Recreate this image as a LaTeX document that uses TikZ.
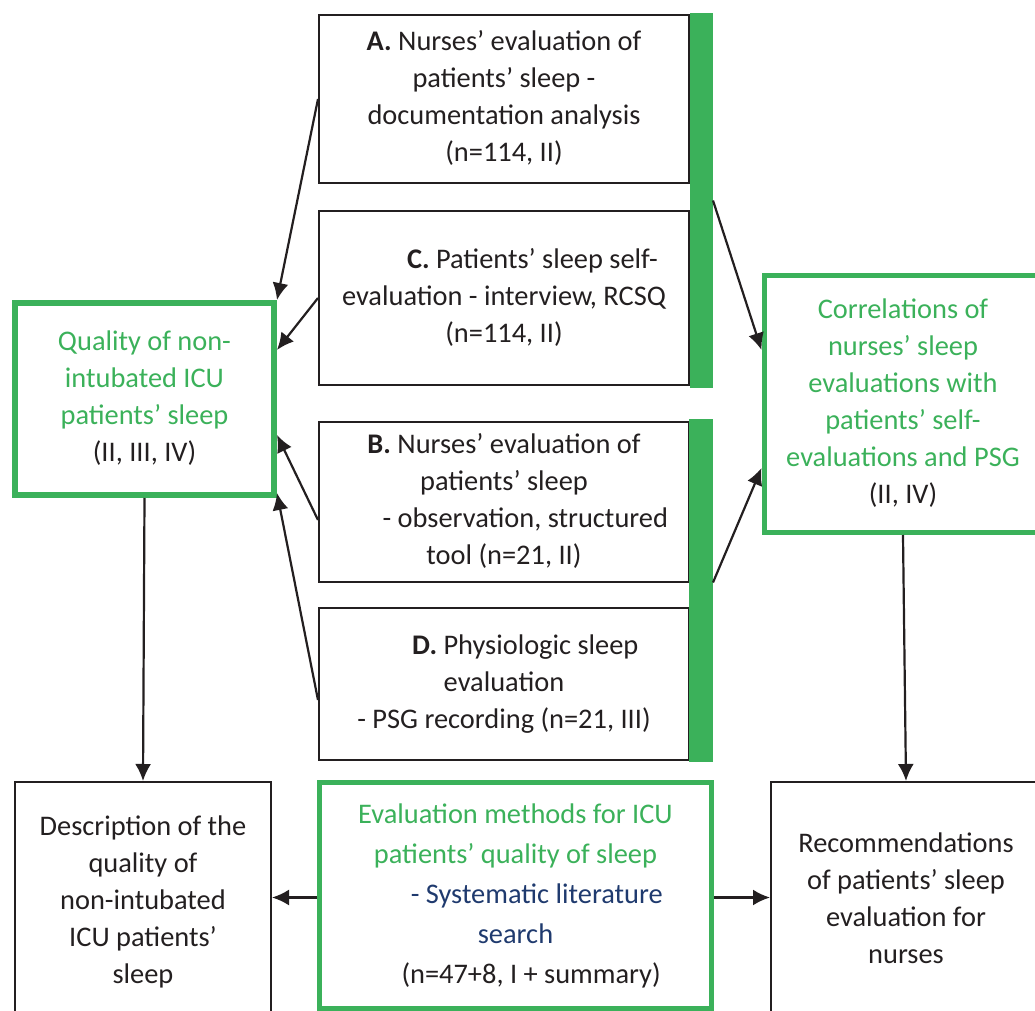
\documentclass[tikz,border=0pt]{standalone}
\usepackage{fontspec}
\setmainfont{Carlito}
\usetikzlibrary{positioning,arrows.meta}

\begin{document}
\begin{tikzpicture}[x=0.5pt, y=-0.5pt]
  \definecolor{ink}{HTML}{231F20}
  \definecolor{green}{HTML}{3BB15A}
  \definecolor{navy}{HTML}{1F3A6E}
  \newcommand{\nodename}[1]{\fontsize{14.2}{18.5}\selectfont\begin{tabular}{c}#1\end{tabular}}
  \newcommand{\widename}[1]{\fontsize{14.2}{20}\selectfont\begin{tabular}{c}#1\end{tabular}}
  \tikzstyle{block}     = [rectangle, draw=ink, line width=1pt, text=ink, inner sep=0pt]
  \tikzstyle{goal}      = [rectangle, draw=green, line width=3pt, text=green, inner sep=0pt]
  \tikzstyle{bar}       = [rectangle, fill=green, inner sep=0pt, outer sep=0pt]
  \tikzstyle{connector} = [line width=1.1pt, draw=ink, -{Latex[length=8.5pt, width=8pt]}]
  \useasboundingbox (0,0) rectangle (1035,1011);
  \clip (0,0) rectangle (1035,1011);
  % method boxes
  \node [block, minimum width=185pt, minimum height=84pt] (docanalysis) at (504,99)  {\nodename{\textbf{A.} Nurses’ evaluation of\\patients’ sleep -\\documentation analysis\\(n=114, II)}};
  \node [block, minimum width=185pt, minimum height=87pt] (selfeval)    at (504,298) {\nodename{\hspace*{2em}\textbf{C.} Patients’ sleep self-\\evaluation - interview, RCSQ\\(n=114, II)}};
  \node [block, minimum width=185pt, minimum height=80pt] (observation) at (504,502) {\nodename{\textbf{B.} Nurses’ evaluation of\\patients’ sleep\\\hspace*{1.5em}- observation, structured\\tool (n=21, II)}};
  \node [block, minimum width=185pt, minimum height=76pt] (psg)         at (504,684) {\nodename{\hspace*{1.5em}\textbf{D.} Physiologic sleep\\evaluation\\- PSG recording (n=21, III)}};
  \node [bar, minimum width=11.5pt, minimum height=187.5pt] (nursebar)   at (701.5,200.5) {};
  \node [bar, minimum width=12pt,   minimum height=171.5pt] (patientbar) at (701,590.5)   {};
  % results
  \node [goal, minimum width=129.5pt, minimum height=96pt] (quality) at (144.5,399) {\nodename{Quality of non-\\intubated ICU\\patients’ sleep\\\textcolor{ink}{(II, III, IV)}}};
  \node [goal, line width=2.5pt, minimum width=139pt, minimum height=128.5pt] (correlations) at (903,404) {\nodename{Correlations of\\nurses’ sleep\\evaluations with\\patients’ self-\\evaluations and PSG\\\textcolor{ink}{(II, IV)}}};
  \node [block, minimum width=128pt, minimum height=120pt] (description) at (143,902) {\nodename{Description of the\\quality of\\non-intubated\\ICU patients’\\sleep}};
  \node [goal, line width=2.5pt, minimum width=196pt, minimum height=113pt] (litsearch) at (515.5,895.5) {\widename{Evaluation methods for ICU\\patients’ quality of sleep\\\hspace*{1.5em}\textcolor{navy}{- Systematic literature}\\\textcolor{navy}{search}\\\hspace*{1.1em}\textcolor{ink}{(n=47+8, I + summary)}}};
  \node [block, minimum width=135pt, minimum height=119pt] (recommend) at (906,901) {\nodename{Recommendations\\of patients’ sleep\\evaluation for\\nurses}};
  % connectors
  \draw [connector] (docanalysis.west) -- (quality.north east);
  \draw [connector] (selfeval.west)    -- ([yshift=24.5pt]quality.east);
  \draw [connector] ([yshift=-9pt]observation.west) -- ([yshift=-18pt]quality.east);
  \draw [connector] ([yshift=-8pt]psg.west) -- ([yshift=2.5pt]quality.south east);
  \draw [connector] (nursebar.east)   -- ([yshift=27pt]correlations.west);
  \draw [connector] ([yshift=4pt]patientbar.east) -- ([yshift=-32pt]correlations.west);
  \draw [connector] (quality.south)      -- (description.north);
  \draw [connector] (correlations.south) -- (recommend.north);
  \draw [connector] ([yshift=-1pt]litsearch.west) -- ([yshift=-1pt]litsearch.west -| description.east);
  \draw [connector] ([yshift=-1pt]litsearch.east) -- ([yshift=-1pt]litsearch.east -| recommend.west);
\end{tikzpicture}
\end{document}
